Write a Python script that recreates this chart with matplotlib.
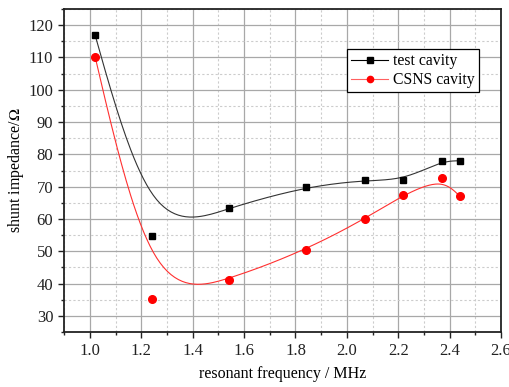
import matplotlib
matplotlib.use("Agg")
import matplotlib.pyplot as plt
import numpy as np
from matplotlib.ticker import MultipleLocator

# resonant frequency (MHz)
freq = [1.02, 1.24, 1.54, 1.84, 2.07, 2.22, 2.37, 2.44]
# shunt impedance (Ohm)
test_cavity = [116.9, 54.8, 63.5, 70.0, 72.0, 72.0, 78.0, 78.0]
csns_cavity = [110.2, 35.3, 41.1, 50.4, 60.0, 67.5, 72.6, 67.0]

plt.rcParams["font.family"] = ["Liberation Serif", "DejaVu Serif"]
plt.rcParams["mathtext.fontset"] = "stix"


def bspline(px, py, n=40):
    """Uniform cubic B-spline with the data as control points, ends pinned
    via mirrored phantom points (the way Origin draws its B-spline line)."""
    p = np.column_stack([px, py]).astype(float)
    p = np.vstack([2 * p[0] - p[1], p, 2 * p[-1] - p[-2]])
    t = np.linspace(0, 1, n)[:, None]
    b0 = (1 - t) ** 3 / 6
    b1 = (3 * t ** 3 - 6 * t ** 2 + 4) / 6
    b2 = (-3 * t ** 3 + 3 * t ** 2 + 3 * t + 1) / 6
    b3 = t ** 3 / 6
    segs = [b0 * p[i] + b1 * p[i + 1] + b2 * p[i + 2] + b3 * p[i + 3]
            for i in range(len(p) - 3)]
    curve = np.vstack(segs)
    return curve[:, 0], curve[:, 1]


fig = plt.figure(figsize=(5.10, 3.87), dpi=100)
ax = fig.add_axes([64.3 / 510, 55 / 387, 436.7 / 510, 323 / 387])

ax.set_xlim(0.9, 2.6)
ax.set_ylim(25, 125)
ax.xaxis.set_minor_locator(MultipleLocator(0.1))
ax.yaxis.set_minor_locator(MultipleLocator(5))
ax.set_xticks(np.arange(1.0, 2.61, 0.2))
ax.set_yticks(np.arange(30, 121, 10))

ax.grid(which="major", color="#a8a8a8", linewidth=0.9, linestyle="-")
ax.grid(which="minor", color="#cccccc", linewidth=0.8, linestyle=(0, (2, 2)))
ax.set_axisbelow(True)

ax.tick_params(which="major", direction="out", length=4, width=1, labelsize=12,
               top=False, right=False, colors="#222222", pad=4)
ax.tick_params(which="minor", direction="out", length=2.5, width=1, top=False, right=False,
               colors="#222222")
for s in ax.spines.values():
    s.set_linewidth(1.3)
    s.set_color("#222222")

bx, by = bspline(freq, test_cavity)
rx, ry = bspline(freq, csns_cavity)
ax.plot(bx, by, color="#333333", linewidth=0.8)
ax.plot(rx, ry, color="#ff3030", linewidth=0.8)
ax.plot(freq, test_cavity, linestyle="none", marker="s", markersize=5, color="black")
ax.plot(freq, csns_cavity, linestyle="none", marker="o", markersize=5.5, color="red")

h1, = ax.plot([], [], color="black", linewidth=0.8, marker="s", markersize=3.8)
h2, = ax.plot([], [], color="#ff6060", linewidth=0.8, marker="o", markersize=4.5,
              markerfacecolor="red", markeredgecolor="red")
leg = ax.legend([h1, h2], ["test cavity", "CSNS cavity"], loc="upper left",
                bbox_to_anchor=(0.647, 0.875), borderaxespad=0, fontsize=11.3,
                frameon=True, fancybox=False, edgecolor="black", framealpha=1,
                handlelength=2.4, handletextpad=0.3, borderpad=0.25, labelspacing=0.2)
leg.get_frame().set_linewidth(0.9)

ax.set_xlabel("resonant frequency / MHz", fontsize=11.5, labelpad=5)
ax.set_ylabel("shunt impedance/$\\mathit{\\Omega}$", fontsize=11.5, labelpad=2)

fig.savefig("out.png", dpi=100)
